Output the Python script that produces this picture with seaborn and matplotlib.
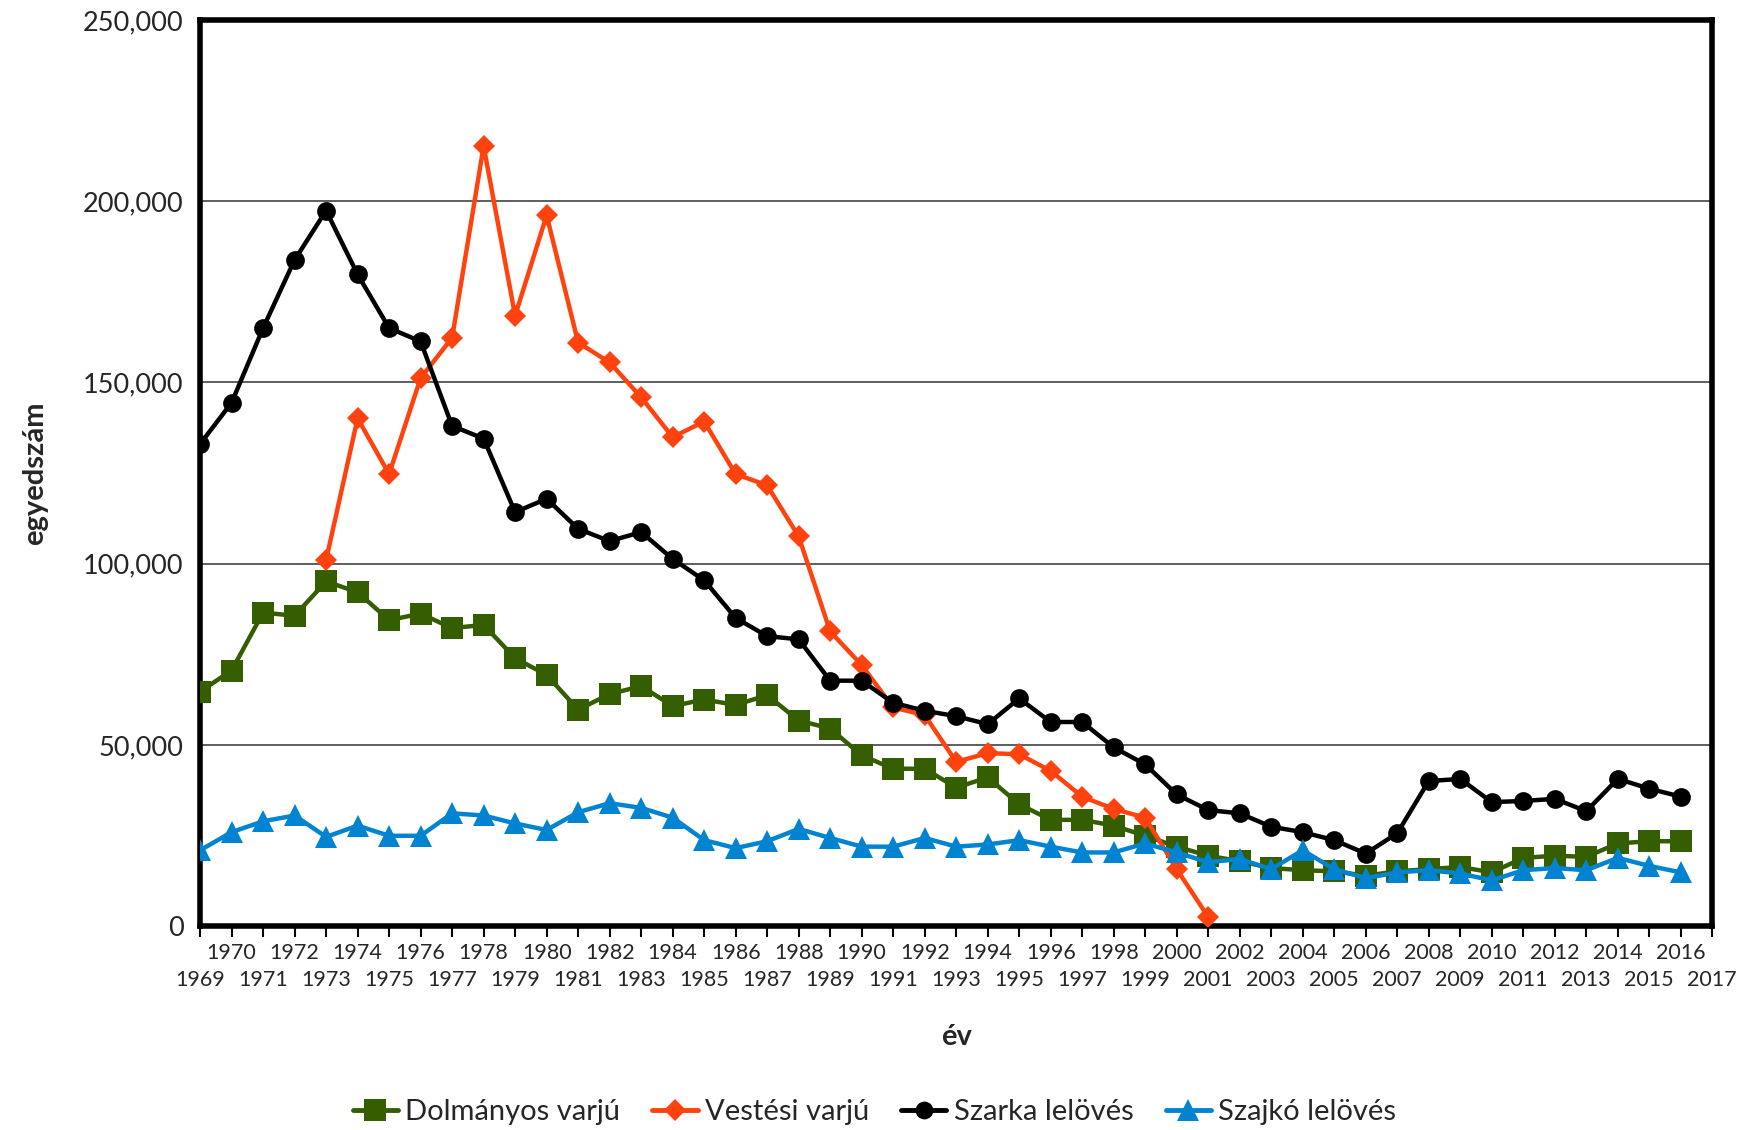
import matplotlib
matplotlib.use("Agg")
import matplotlib.pyplot as plt
import seaborn as sns
import pandas as pd
import numpy as np
from matplotlib.lines import Line2D
from matplotlib.ticker import FixedLocator, FixedFormatter

years = list(range(1969, 2017))

dolmanyos = [64700, 70500, 86500, 85600, 95100, 92100, 84400, 86200, 82200, 83100,
             73900, 69300, 59700, 64000, 66200, 60700, 62500, 61000, 63700, 56700,
             54500, 47100, 43400, 43400, 38200, 41000, 33600, 29300, 29300, 27700,
             24900, 21900, 19400, 17900, 16000, 15400, 15100, 13900, 15100, 15700,
             16300, 14800, 18800, 19400, 19100, 22800, 23400, 23400]

vestesi_years = list(range(1973, 2002))
vestesi = [101000, 140100, 124700, 151200, 162300, 215200, 168400, 196100, 161000, 155500,
           145900, 134900, 139200, 124700, 121600, 107500, 81300, 72000, 60300, 58200,
           45300, 47700, 47400, 42800, 35700, 32300, 29900, 15700, 2500]

szarka = [133000, 144400, 165000, 183800, 197400, 179800, 165000, 161300, 138000, 134500,
          114200, 117900, 109600, 106200, 108700, 101300, 95400, 85000, 80000, 79100,
          67700, 67700, 61600, 59400, 57900, 55700, 62800, 56300, 56300, 49300,
          44600, 36300, 32000, 31100, 27400, 25900, 23700, 20000, 25600, 40000,
          40600, 34200, 34500, 35100, 31700, 40600, 37900, 35700]

szajko = [20900, 25900, 28900, 30500, 24600, 27700, 24900, 24900, 31100, 30500,
          28300, 26500, 31400, 33900, 32600, 29900, 23700, 21500, 23400, 26800,
          24300, 21900, 21900, 24300, 21900, 22500, 23700, 21900, 20300, 20300,
          22800, 20300, 17600, 18500, 15700, 20900, 15700, 13200, 14800, 15400,
          14500, 12600, 15400, 16000, 15400, 18800, 16600, 14800]

names = ["Dolmányos varjú", "Vestési varjú", "Szarka lelövés", "Szajkó lelövés"]
colors = ["#355E00", "#FF420E", "#000000", "#0084D1"]
markers = ["s", "D", "o", "^"]
msizes = [16.5, 11.5, 13.5, 16.5]

even_years = list(range(1970, 2017, 2))
odd_years = list(range(1969, 2018, 2))
y_ticks = [0, 50000, 100000, 150000, 200000, 250000]

sns.set_theme(style="white")
plt.rcParams["font.family"] = ["Lato", "DejaVu Sans"]

df_list = [
    pd.DataFrame({"year": years, "value": dolmanyos, "series": names[0]}),
    pd.DataFrame({"year": vestesi_years, "value": vestesi, "series": names[1]}),
    pd.DataFrame({"year": years, "value": szarka, "series": names[2]}),
    pd.DataFrame({"year": years, "value": szajko, "series": names[3]}),
]

fig = plt.figure(figsize=(17.49, 11.30), dpi=100)
ax = fig.add_axes([0.1144, 0.1805, 0.8646, 0.8018])

for d, c, m, ms in zip(df_list, colors, markers, msizes):
    sns.lineplot(data=d, x="year", y="value", ax=ax, color=c, marker=m,
                 markersize=ms, linewidth=3.2, markeredgewidth=0,
                 legend=False, zorder=3)

ax.set_xlim(1969, 2017)
ax.set_ylim(0, 250000)
ax.set_yticks(y_ticks)
ax.set_yticklabels([f"{v:,}" for v in y_ticks], fontsize=19.5)

ax.xaxis.set_major_locator(FixedLocator(even_years))
ax.xaxis.set_major_formatter(FixedFormatter([str(y) for y in even_years]))
ax.xaxis.set_minor_locator(FixedLocator(odd_years))
ax.xaxis.set_minor_formatter(FixedFormatter([str(y) for y in odd_years]))
ax.tick_params(axis="x", which="major", direction="out", length=8, width=1.5,
               color="black", bottom=True, pad=4, labelsize=15.5)
ax.tick_params(axis="x", which="minor", direction="out", length=8, width=1.5,
               color="black", bottom=True, pad=24, labelsize=15.5)
ax.tick_params(axis="y", left=False, pad=6)
ax.yaxis.grid(True, color="#333333", linewidth=1.1)
ax.xaxis.grid(False)
for s in ax.spines.values():
    s.set_visible(True)
    s.set_color("black")
    s.set_linewidth(4)
ax.set_xlabel("év", fontsize=21, fontweight="bold", labelpad=24)
ax.set_ylabel("egyedszám", fontsize=21, fontweight="bold", labelpad=25)

handles = [Line2D([0], [0], color=c, marker=m, markersize=ms * 0.95, linewidth=3.5,
                  markeredgewidth=0) for c, m, ms in zip(colors, markers, msizes)]
fig.legend(handles, names, loc="center", bbox_to_anchor=(0.5, 0.016), ncol=4,
           frameon=False, fontsize=21, handlelength=1.55, handletextpad=0.25,
           columnspacing=1.1)

fig.savefig("out.png", dpi=100)
